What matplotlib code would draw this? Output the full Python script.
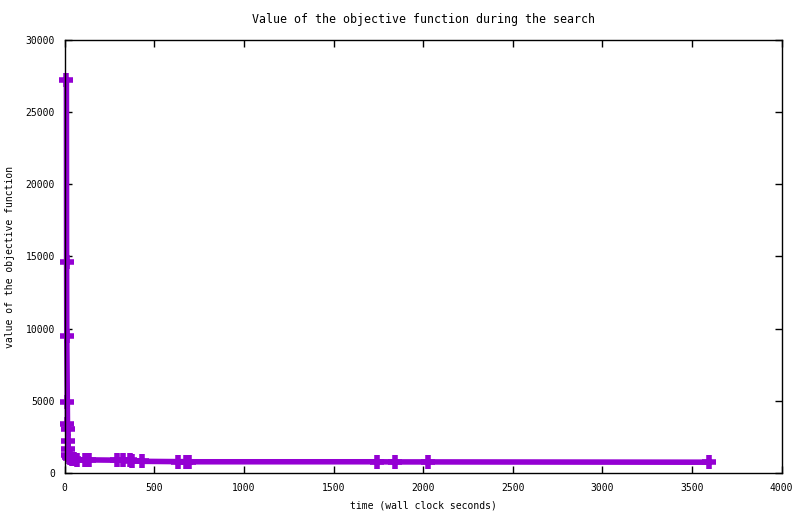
import matplotlib
matplotlib.use("Agg")
from matplotlib import pyplot as plt

# wall clock seconds and objective value
times = [9, 10, 11, 14, 15, 16, 17, 18, 20, 25, 30, 40, 50, 70, 113, 137,
         290, 324, 364, 376, 430, 631, 677, 695, 1741, 1841, 2029, 3594]
values = [27200, 14600, 9500, 4930, 3400, 3040, 2240, 1650, 1250, 1100,
          1040, 980, 950, 920, 900, 900, 880, 870, 860, 850, 800, 780, 780,
          770, 770, 760, 760, 740]

plt.rcParams['font.family'] = ['DejaVu Sans Mono']
plt.rcParams['font.size'] = 7

fig = plt.figure(figsize=(8, 5.14), dpi=100)
ax = fig.add_axes([0.081, 0.08, 0.896, 0.842])
ax.plot(times, values, color='#9400d3', linewidth=4, marker='+',
        markersize=10, markeredgewidth=4, clip_on=False)
ax.set_xlim(0, 4000)
ax.set_ylim(0, 30000)
ax.set_xticks(range(0, 4001, 500))
ax.set_yticks(range(0, 30001, 5000))
ax.tick_params(direction='in', top=True, right=True, length=5, width=1, pad=7)
for s in ax.spines.values():
        s.set_linewidth(1)
ax.set_title("Value of the objective function during the search", pad=12)
ax.set_xlabel("time (wall clock seconds)", labelpad=6)
ax.set_ylabel("value of the objective function")
ax.yaxis.set_label_coords(-0.07, 0.5)
fig.savefig("out.png", dpi=100)
